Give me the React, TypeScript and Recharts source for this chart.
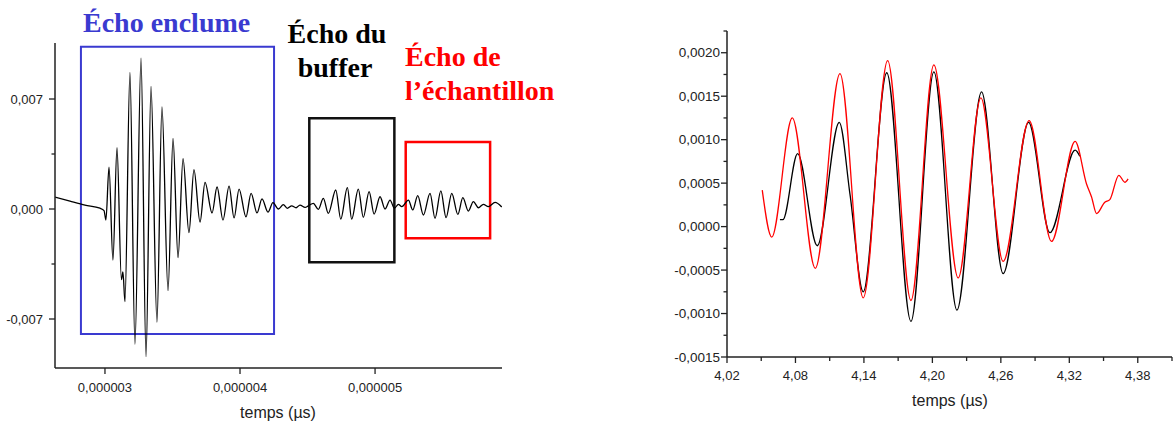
import React from 'react';
import { LineChart, Line, XAxis, YAxis, ReferenceArea } from 'recharts';

const US = 1e-6;

// Left panel: full trace, [time in µs, amplitude]
const fullTrace: [number, number][] = [
  [2.630, 0.00076], [2.741, 0.0005], [2.852, 0.00025], [2.963, 0.00005], [2.993, -0.0001],
  [3.007, -0.0007], [3.030, 0.00267], [3.059, -0.00325], [3.089, 0.0039], [3.122, -0.0045],
  [3.133, -0.004], [3.148, -0.0059], [3.185, 0.0087], [3.222, -0.0086], [3.267, 0.0096],
  [3.304, -0.0094], [3.341, 0.0078], [3.385, -0.0072], [3.422, 0.0065], [3.467, -0.0052],
  [3.504, 0.0045], [3.541, -0.0031], [3.578, 0.0032], [3.622, -0.0015], [3.659, 0.0025],
  [3.704, -0.00083], [3.741, 0.0017], [3.793, -0.00025], [3.830, 0.0014], [3.874, -0.0007],
  [3.919, 0.00146], [3.956, -0.00057], [3.993, 0.00127], [4.044, -0.0005], [4.082, 0.001],
  [4.126, -0.00025], [4.163, 0.00064], [4.207, -0.0002], [4.244, 0.0004], [4.284, 0],
  [4.321, 0.00028], [4.350, 0.00004], [4.383, 0.0002], [4.415, 0.00008], [4.444, 0.00025],
  [4.482, 0.0001], [4.506, 0.0002], [4.543, 0.00036], [4.580, -0.00002], [4.617, 0.00068],
  [4.654, -0.00028], [4.709, 0.00121], [4.746, -0.00064], [4.795, 0.00136], [4.827, -0.00064],
  [4.876, 0.00127], [4.913, -0.00053], [4.956, 0.0011], [4.993, -0.00032], [5.037, 0.00078],
  [5.074, 0], [5.111, 0.00057], [5.143, 0.00005], [5.173, 0.0003], [5.198, 0.00015],
  [5.247, 0.00057], [5.279, -0.00006], [5.316, 0.00085], [5.358, -0.00038], [5.407, 0.001],
  [5.444, -0.00059], [5.487, 0.00115], [5.526, -0.00055], [5.568, 0.001], [5.613, -0.00034],
  [5.650, 0.00072], [5.691, -0.00013], [5.728, 0.00047], [5.765, 0.00008], [5.802, 0.0003],
  [5.839, 0.00015], [5.889, 0.00042], [5.938, 0.00013],
];

// Boxes: [t1, t2, v1, v2] (µs, amplitude)
const boxEnclume = [2.822, 4.252, -0.00795, 0.01032];
const boxBuffer = [4.513, 5.143, -0.00339, 0.00577];
const boxEchantillon = [5.227, 5.852, -0.00186, 0.00426];

const leftXTicks = [3, 4, 5];
const leftYTicks = [-0.007, -0.0035, 0, 0.0035, 0.007];
const leftYMajor = [-0.007, 0, 0.007];

// Right panel: zoomed echoes (time in µs)
const blackEcho: [number, number][] = [
  [4.0664, 0.00008], [4.0690, 0.00008], [4.0819, 0.00084], [4.0991, -0.00022], [4.1184, 0.0012],
  [4.1278, 0.00037], [4.1394, -0.00075], [4.1600, 0.00177], [4.1812, -0.00109], [4.2013, 0.00178],
  [4.2215, -0.00096], [4.2431, 0.00155], [4.2620, -0.00054], [4.2843, 0.0012], [4.3030, -0.00007],
  [4.3251, 0.00088], [4.3292, 0.00081],
];
const redEcho: [number, number][] = [
  [4.0509, 0.00042], [4.0592, -0.00012], [4.0772, 0.00125], [4.0974, -0.00048], [4.1190, 0.00176],
  [4.1394, -0.00082], [4.1608, 0.00191], [4.1812, -0.00085], [4.2013, 0.00186], [4.2226, -0.00059],
  [4.2425, 0.00148], [4.2620, -0.0004], [4.2848, 0.00122], [4.3044, -0.00017], [4.3251, 0.00098],
  [4.3351, 0.00049], [4.3395, 0.00034], [4.3439, 0.00015], [4.3511, 0.00028], [4.3555, 0.00031],
  [4.3634, 0.00059], [4.3687, 0.00051], [4.3715, 0.00055],
];

const rightXTicks = [4.02, 4.05, 4.08, 4.11, 4.14, 4.17, 4.2, 4.23, 4.26, 4.29, 4.32, 4.35, 4.38, 4.41];
const rightXMajor = [4.02, 4.08, 4.14, 4.2, 4.26, 4.32, 4.38];
const rightYTicks = [-0.0015, -0.00125, -0.001, -0.00075, -0.0005, -0.00025, 0, 0.00025, 0.0005,
  0.00075, 0.001, 0.00125, 0.0015, 0.00175, 0.002, 0.00225];
const rightYMajor = [-0.0015, -0.001, -0.0005, 0, 0.0005, 0.001, 0.0015, 0.002];

const AXIS = '#222';
const FONT = '"Liberation Sans", Arial, sans-serif';
const BLUE = '#3a3ad0';
const RED = '#ff0000';

const isIn = (arr: number[], v: number) => arr.some((m) => Math.abs(m - v) < 1e-12);
const comma = (s: string) => s.replace('.', ',');

const YTick = (major: number[], fmt: (v: number) => string, fs: number, gap: number) => (props: any) => {
  const { x, y, payload } = props;
  const mj = isIn(major, payload.value);
  const len = mj ? 6 : 3.5;
  return (
    <g>
      <line x1={x - len} x2={x} y1={y} y2={y} stroke={AXIS} strokeWidth={1.3} />
      {mj && (
        <text x={x - 6 - gap} y={y} textAnchor="end" dominantBaseline="central" fontSize={fs} fontFamily={FONT} fill={AXIS}>
          {fmt(payload.value)}
        </text>
      )}
    </g>
  );
};

const XTick = (major: number[], fmt: (v: number) => string, fs: number, gap: number) => (props: any) => {
  const { x, y, payload } = props;
  const mj = isIn(major, payload.value);
  const len = mj ? 6 : 4;
  return (
    <g>
      <line x1={x} x2={x} y1={y} y2={y + len} stroke={AXIS} strokeWidth={1.3} />
      {mj && (
        <text x={x} y={y + 6 + gap} textAnchor="middle" dominantBaseline="central" fontSize={fs} fontFamily={FONT} fill={AXIS}>
          {fmt(payload.value)}
        </text>
      )}
    </g>
  );
};

export default function App() {
  const leftData = fullTrace.map(([t, v]) => ({ t: t * US, v }));
  const blackData = blackEcho.map(([t, v]) => ({ t, v }));
  const redData = redEcho.map(([t, v]) => ({ t, v }));
  const box = (b: number[], color: string, w: number) => (
    <ReferenceArea
      x1={b[0] * US} x2={b[1] * US} y1={b[2]} y2={b[3]}
      fill="none" fillOpacity={0} stroke={color} strokeWidth={w} strokeOpacity={1}
      ifOverflow="visible"
    />
  );

  return (
    <div style={{ position: 'absolute', left: 0, top: 0, width: 1173, height: 423, background: '#fff' }}>
      <div style={{ position: 'absolute', left: 0, top: 0 }}>
        <LineChart width={510} height={423} data={leftData} margin={{ top: 43, right: 8, bottom: 25, left: 0 }}>
          <XAxis
            dataKey="t" type="number" domain={[2.63 * US, 5.94 * US]} allowDataOverflow
            ticks={leftXTicks.map((t) => t * US)} interval={0}
            tickSize={0} tickMargin={0} tickLine={false}
            axisLine={{ stroke: AXIS, strokeWidth: 1.5 }}
            tick={XTick(leftXTicks.map((t) => t * US), (v) => comma(v.toFixed(6)), 13, 13)}
            height={30}
          />
          <YAxis
            type="number" domain={[-0.010118, 0.010564]} allowDataOverflow
            ticks={leftYTicks} interval={0} width={55}
            tickSize={0} tickMargin={0} tickLine={false}
            axisLine={{ stroke: AXIS, strokeWidth: 1.5 }}
            tick={YTick(leftYMajor, (v) => comma(v.toFixed(3)), 13, 6)}
          />
          {box(boxEnclume, BLUE, 2)}
          {box(boxBuffer, '#111', 2.5)}
          {box(boxEchantillon, RED, 2.5)}
          <Line type="monotone" dataKey="v" stroke="#000" strokeWidth={1.3} dot={false} isAnimationActive={false} />
        </LineChart>
      </div>
      <div style={{ position: 'absolute', left: 640, top: 0 }}>
        <LineChart width={533} height={423} margin={{ top: 31, right: 1, bottom: 36, left: 0 }}>
          <XAxis
            dataKey="t" type="number" domain={[4.02, 4.41]} allowDataOverflow
            ticks={rightXTicks} interval={0}
            tickSize={0} tickMargin={0} tickLine={false}
            axisLine={{ stroke: AXIS, strokeWidth: 1.5 }}
            tick={XTick(rightXMajor, (v) => comma(v.toFixed(2)), 13, 12)}
            height={30}
          />
          <YAxis
            type="number" domain={[-0.0015, 0.00225]} allowDataOverflow
            ticks={rightYTicks} interval={0} width={87}
            tickSize={0} tickMargin={0} tickLine={false}
            axisLine={{ stroke: AXIS, strokeWidth: 1.5 }}
            tick={YTick(rightYMajor, (v) => comma(v.toFixed(4)), 13.5, 1)}
          />
          <Line data={blackData} type="monotone" dataKey="v" stroke="#000" strokeWidth={1.3} dot={false} isAnimationActive={false} />
          <Line data={redData} type="monotone" dataKey="v" stroke={RED} strokeWidth={1.3} dot={false} isAnimationActive={false} />
        </LineChart>
      </div>
      <svg width={1173} height={423} style={{ position: 'absolute', left: 0, top: 0, pointerEvents: 'none' }}>
        <g fontFamily='"Liberation Serif", "Times New Roman", serif' fontWeight="bold" fontSize={28}>
          <text x={83} y={32} fill={BLUE}>Écho enclume</text>
          <text x={337} y={43} fill="#000" textAnchor="middle">Écho du</text>
          <text x={335} y={77} fill="#000" textAnchor="middle">buffer</text>
          <text x={405} y={66} fill={RED}>Écho de</text>
          <text x={405} y={100} fill={RED}>l’échantillon</text>
        </g>
        <g fontFamily={FONT} fontSize={16} fill={AXIS} textAnchor="middle">
          <text x={278} y={417.5}>temps (µs)</text>
          <text x={950} y={405.5}>temps (µs)</text>
        </g>
      </svg>
    </div>
  );
}
